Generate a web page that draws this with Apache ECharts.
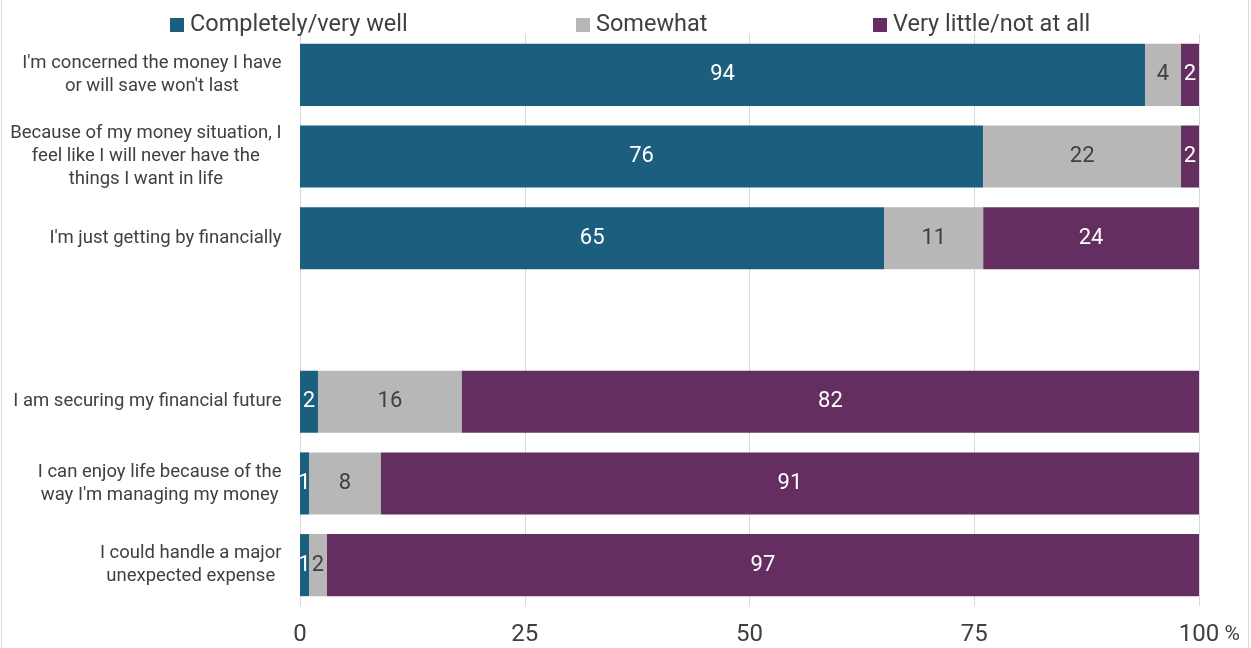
<!DOCTYPE html>
<html>
<head>
<meta charset="utf-8">
<script src="https://cdn.jsdelivr.net/npm/echarts@6/dist/echarts.min.js"></script>
<style>
  html, body { margin: 0; padding: 0; background: #fff; }
  #chart { width: 1251px; height: 648px; }
</style>
</head>
<body>
<div id="chart"></div>
<script>
// Statements, top to bottom; the empty entry leaves a gap between the two groups
const categories = [
  "I'm concerned the money I have\nor will save won't last",
  "Because of my money situation, I\nfeel like I will never have the\nthings I want in life",
  "I'm just getting by financially",
  "",
  "I am securing my financial future",
  "I can enjoy life because of the\nway I'm managing my money",
  "I could handle a major\nunexpected expense"
];

const seriesNames = ['Completely/very well', 'Somewhat', 'Very little/not at all'];
const completelyWell = [94, 76, 65, null, 2, 1, 1];
const somewhat = [4, 22, 11, null, 16, 8, 2];
const veryLittle = [2, 2, 24, null, 82, 91, 97];

const xTicks = [0, 25, 50, 75, 100];

const colors = ['#1B5E7E', '#B7B7B7', '#642F60'];
const labelColors = ['#ffffff', '#404040', '#ffffff'];
const textColor = '#404040';
const fontFamily = 'Roboto, "Noto Sans", sans-serif';

const ctx = document.createElement('canvas').getContext('2d');
function textWidth(text, size) {
  ctx.font = size + 'px ' + fontFamily;
  return ctx.measureText(text).width;
}

// Category labels: block right-aligned, lines centred within the block
const catFontSize = 18.5;
const catRich = {};
categories.forEach((c, i) => {
  const w = Math.max(...c.split('\n').map(l => textWidth(l, catFontSize))) + 1;
  catRich['c' + i] = {
    width: w, align: 'center', fontSize: catFontSize, lineHeight: 23,
    color: textColor, fontFamily: fontFamily
  };
});

// The unit sign trails the last tick; a matching spacer keeps the number centred on its tick
const tickFontSize = 24;
const unitFontSize = 21;
const unitText = ' %';
const unitWidth = textWidth(unitText, unitFontSize);

const chart = echarts.init(document.getElementById('chart'));

function barSeries(idx, data) {
  return {
    name: seriesNames[idx],
    type: 'bar',
    stack: 'total',
    data: data,
    barCategoryGap: '24%',
    itemStyle: { color: colors[idx] },
    label: {
      show: true,
      position: 'inside',
      color: labelColors[idx],
      fontSize: 22,
      fontFamily: fontFamily,
      formatter: p => (p.value == null ? '' : String(p.value))
    },
    emphasis: { disabled: true }
  };
}

function legendAt(left, idx) {
  return {
    left: left, top: 13,
    padding: 0,
    data: [seriesNames[idx]],
    icon: 'rect',
    itemWidth: 14, itemHeight: 14,
    itemGap: 0,
    selectedMode: false,
    textStyle: { color: textColor, fontSize: 23.5, fontFamily: fontFamily, padding: [0, 0, 0, 1] }
  };
}

chart.setOption({
  animation: false,
  backgroundColor: '#ffffff',
  legend: [legendAt(170, 0), legendAt(576, 1), legendAt(873, 2)],
  grid: { left: 300, right: 52, top: 34, bottom: 42, containLabel: false },
  xAxis: {
    type: 'value',
    min: 0, max: 100, interval: 25,
    axisLine: { show: false },
    axisTick: { show: false },
    splitLine: { show: true, lineStyle: { color: '#D9D9D9', width: 1 } },
    axisLabel: {
      margin: 17,
      color: textColor,
      fontSize: tickFontSize,
      fontFamily: fontFamily,
      formatter: v => (xTicks.indexOf(v) === -1 ? '' :
        (v === xTicks[xTicks.length - 1] ? '{s|}{n|' + v + '}{p|' + unitText + '}' : String(v))),
      rich: {
        s: { width: unitWidth },
        n: { fontSize: tickFontSize, color: textColor, fontFamily: fontFamily },
        p: { fontSize: unitFontSize, color: textColor, fontFamily: fontFamily }
      }
    }
  },
  yAxis: {
    type: 'category',
    inverse: true,
    data: categories,
    axisLine: { show: true, lineStyle: { color: '#D9D9D9', width: 1 } },
    axisTick: { show: false },
    axisLabel: {
      margin: 18,
      formatter: (v, i) => v ? v.split('\n').map(l => '{c' + i + '|' + l + '}').join('\n') : '',
      rich: catRich
    }
  },
  graphic: [
    { type: 'line', shape: { x1: 1.5, y1: 0, x2: 1.5, y2: 648 }, style: { stroke: '#D9D9D9', lineWidth: 1 }, silent: true },
    { type: 'line', shape: { x1: 1248.5, y1: 0, x2: 1248.5, y2: 648 }, style: { stroke: '#D9D9D9', lineWidth: 1 }, silent: true }
  ],
  series: [
    barSeries(0, completelyWell),
    barSeries(1, somewhat),
    barSeries(2, veryLittle)
  ]
});
</script>
</body>
</html>
